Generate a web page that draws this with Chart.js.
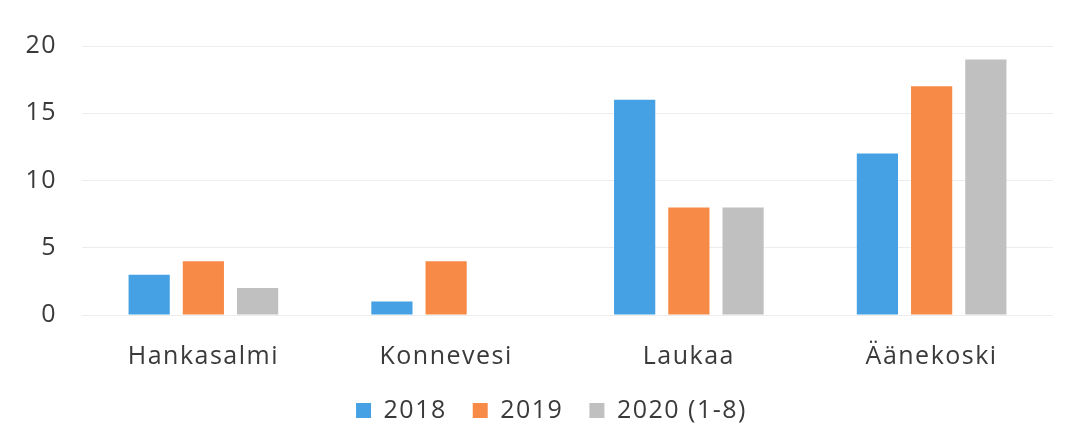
<!DOCTYPE html>
<html>
<head>
<meta charset="utf-8">
<script src="https://cdn.jsdelivr.net/npm/chart.js@4"></script>
<style>
  html, body { margin: 0; padding: 0; background: #fff; }
  #wrap { width: 1069px; height: 445px; }
</style>
</head>
<body>
<div id="wrap"><canvas id="chart" width="1069" height="445"></canvas></div>
<script>
// Data
const municipalities = ['Hankasalmi', 'Konnevesi', 'Laukaa', 'Äänekoski'];
const seriesNames = ['2018', '2019', '2020 (1-8)'];
const values2018 = [3, 1, 16, 12];
const values2019 = [4, 4, 8, 17];
const values2020 = [2, 0, 8, 19];
const yTicks = [0, 5, 10, 15, 20];

const colors = ['#45a1e3', '#f88a48', '#c0c0c0'];
const textColor = '#3a3a3a';
const font = { family: '"Open Sans", Lato, sans-serif', size: 25 };

// scanned Calibri text looks loosely spaced; canvas state gets reset, so set it each pass
const spacingPlugin = {
  id: 'spacing',
  beforeUpdate(chart) { chart.ctx.letterSpacing = '1.5px'; },
  beforeDraw(chart) { chart.ctx.letterSpacing = '1.5px'; }
};

// legend in the original sits a bit right of centre
const legendShift = {
  id: 'legendShift',
  afterLayout(chart) {
    chart.legend.left += 15;
    chart.legend.right += 15;
  }
};

const ctx = document.getElementById('chart').getContext('2d');
new Chart(ctx, {
  type: 'bar',
  plugins: [spacingPlugin, legendShift],
  data: {
    labels: municipalities,
    datasets: [values2018, values2019, values2020].map((vals, i) => ({
      label: seriesNames[i],
      data: vals,
      backgroundColor: colors[i],
      borderWidth: 0,
      categoryPercentage: 0.67,
      barPercentage: 0.76
    }))
  },
  options: {
    responsive: false,
    animation: false,
    layout: { padding: { left: 20, right: 16, top: 46, bottom: 12 } },
    plugins: {
      legend: {
        position: 'bottom',
        labels: {
          color: textColor,
          font: font,
          boxWidth: 15,
          boxHeight: 15,
          padding: 26
        }
      },
      tooltip: { enabled: false }
    },
    scales: {
      x: {
        grid: { display: false, drawTicks: false },
        border: { display: false },
        ticks: { color: textColor, font: font, padding: 27 },
        afterFit: s => { s.height = 57; }
      },
      y: {
        min: 0,
        max: 20,
        afterBuildTicks: axis => { axis.ticks = yTicks.map(v => ({ value: v })); },
        grid: { color: '#ededed', lineWidth: 1, drawTicks: false },
        border: { display: false },
        ticks: { color: textColor, font: font, padding: 25 },
        afterFit: s => { s.width = 62; }
      }
    }
  }
});
</script>
</body>
</html>
